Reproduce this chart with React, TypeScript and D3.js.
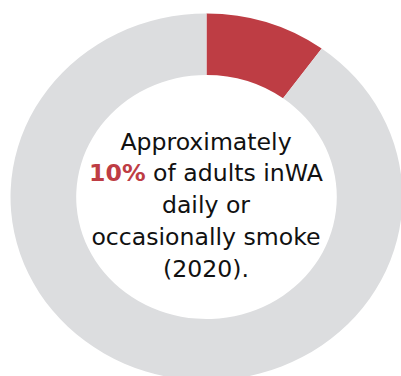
import React from "react";
import * as d3 from "d3";

const categories = ["Smoke daily or occasionally", "Do not smoke"];
const values = [10, 90];
const colors = ["#BE3D44", "#DCDDDF"];
const lines = ["Approximately", "10%|of adults inWA", "daily or", "occasionally smoke", "(2020)."];

const W = 401;
const H = 376;
const cx = 206.5;
const cy = 197;
const sx = 1.068;
const outerR = 183.5;
const innerR = 122;

export default function App() {
  const pie = d3.pie<number>().value((d) => d).sort(null);
  const arc = d3.arc<d3.PieArcDatum<number>>().innerRadius(innerR).outerRadius(outerR);
  const arcs = pie(values);
  const baselineY = d3.scaleLinear().domain([0, lines.length - 1]).range([149.5, 277]);
  return (
    <svg width={W} height={H} style={{ position: "absolute", left: 0, top: 0 }}>
      <rect width={W} height={H} fill="#ffffff" />
      <g transform={`translate(${cx},${cy}) scale(${sx},1)`}>
        {arcs.map((a, i) => (
          <path key={categories[i]} d={arc(a) || ""} fill={colors[i]} />
        ))}
      </g>
      <g fontFamily="'DejaVu Sans', Verdana, sans-serif" fontSize={23.6} fill="#111111" textAnchor="middle">
        {lines.map((ln, i) => {
          const parts = ln.split("|");
          return (
            <text key={i} x={cx - 0.5} y={baselineY(i)}>
              {parts.length > 1 ? (
                <>
                  <tspan fill={colors[0]} fontWeight="bold">{parts[0]}</tspan>
                  <tspan>{" " + parts[1]}</tspan>
                </>
              ) : (
                ln
              )}
            </text>
          );
        })}
      </g>
    </svg>
  );
}
